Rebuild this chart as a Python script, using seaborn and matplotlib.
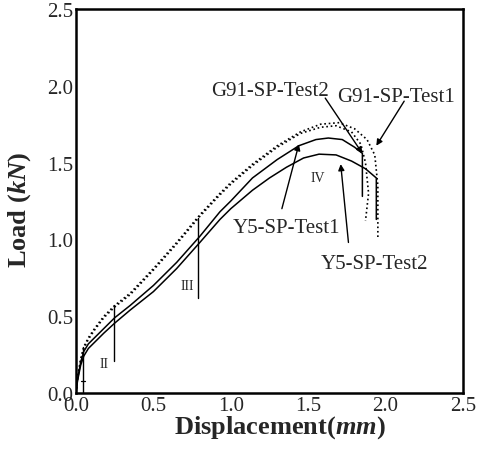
import numpy as np
import pandas as pd
import matplotlib
matplotlib.use("Agg")
import matplotlib.pyplot as plt
import seaborn as sns

# ---- data ----
y5_t1_x = [0, 0.01, 0.03, 0.05, 0.08, 0.12, 0.18, 0.25, 0.35, 0.5, 0.65, 0.8, 0.93, 1.0, 1.14,
           1.3, 1.44, 1.55, 1.63, 1.72, 1.8, 1.85, 1.85]
y5_t1_y = [0, 0.09, 0.20, 0.27, 0.32, 0.36, 0.42, 0.49, 0.57, 0.70, 0.85, 1.02, 1.18, 1.25, 1.40,
           1.52, 1.61, 1.65, 1.66, 1.65, 1.60, 1.56, 1.28]

y5_t2_x = [0, 0.01, 0.03, 0.05, 0.08, 0.12, 0.18, 0.25, 0.35, 0.5, 0.65, 0.8, 0.93, 1.0, 1.14,
           1.25, 1.36, 1.47, 1.57, 1.68, 1.78, 1.87, 1.94, 1.94]
y5_t2_y = [0, 0.08, 0.18, 0.24, 0.29, 0.33, 0.39, 0.455, 0.54, 0.66, 0.81, 0.98, 1.13, 1.20, 1.32,
           1.40, 1.47, 1.53, 1.555, 1.55, 1.51, 1.46, 1.40, 1.13]

g91_t1_x = [0, 0.01, 0.03, 0.05, 0.08, 0.12, 0.18, 0.25, 0.35, 0.5, 0.65, 0.8, 0.93, 1.0, 1.14,
            1.3, 1.45, 1.58, 1.7, 1.8, 1.88, 1.93, 1.95, 1.95]
g91_t1_y = [0, 0.10, 0.22, 0.30, 0.36, 0.42, 0.50, 0.57, 0.65, 0.81, 0.98, 1.16, 1.30, 1.37, 1.49,
            1.61, 1.70, 1.75, 1.76, 1.72, 1.65, 1.55, 1.35, 1.00]

g91_t2_x = [0, 0.01, 0.03, 0.05, 0.08, 0.12, 0.18, 0.25, 0.35, 0.5, 0.65, 0.8, 0.93, 1.0, 1.14,
            1.3, 1.45, 1.58, 1.68, 1.78, 1.84, 1.87, 1.89, 1.87]
g91_t2_y = [0, 0.10, 0.21, 0.29, 0.35, 0.41, 0.49, 0.56, 0.64, 0.80, 0.97, 1.15, 1.29, 1.36, 1.48,
            1.60, 1.69, 1.73, 1.74, 1.70, 1.62, 1.50, 1.30, 1.12]

# stage markers (x, y_low, y_high) and stage labels
stage_x = [0.045, 0.245, 0.79]
stage_lo = [0.0, 0.21, 0.62]
stage_hi = [0.30, 0.57, 1.14]
stage_names = ["II", "III", "IV"]
stage_lx = [0.18, 0.72, 1.56]
stage_ly = [0.19, 0.70, 1.40]

# curve labels: text, text position, arrow tail, arrow head
lab_text = ["G91-SP-Test2", "G91-SP-Test1", "Y5-SP-Test1", "Y5-SP-Test2"]
lab_xy = [(1.25, 1.97), (2.07, 1.93), (1.36, 1.08), (1.93, 0.84)]
arrow_tail = [(1.61, 1.92), (2.12, 1.90), (1.33, 1.20), (1.76, 0.98)]
arrow_head = [(1.85, 1.56), (1.94, 1.61), (1.44, 1.62), (1.71, 1.49)]

x_ticks = [0.0, 0.5, 1.0, 1.5, 2.0, 2.5]
y_ticks = [0.0, 0.5, 1.0, 1.5, 2.0, 2.5]

# ---- build long table ----
frames = []
for name, xs, ys in [("Y5-SP-Test1", y5_t1_x, y5_t1_y), ("Y5-SP-Test2", y5_t2_x, y5_t2_y),
                     ("G91-SP-Test1", g91_t1_x, g91_t1_y), ("G91-SP-Test2", g91_t2_x, g91_t2_y)]:
    frames.append(pd.DataFrame({"x": xs, "y": ys, "series": name}))
df = pd.concat(frames, ignore_index=True)

sns.set_style("white")
plt.rcParams["font.family"] = ["Liberation Serif", "DejaVu Serif"]
plt.rcParams["mathtext.fontset"] = "custom"
plt.rcParams["mathtext.it"] = "Liberation Serif:bold:italic"
plt.rcParams["mathtext.rm"] = "Liberation Serif:bold"

fig = plt.figure(figsize=(4.81, 4.64), dpi=100)
ax = fig.add_axes([76 / 481, 1 - 394 / 464, (463 - 76) / 481, (394 - 10) / 464])

styles = {"Y5-SP-Test1": "-", "Y5-SP-Test2": "-", "G91-SP-Test1": ":", "G91-SP-Test2": ":"}
for name, sub in df.groupby("series", sort=False):
    sns.lineplot(data=sub, x="x", y="y", sort=False, estimator=None, ax=ax,
                 color="black", linestyle=styles[name], linewidth=1.1 if styles[name] == "-" else 1.2)

for sx, lo, hi in zip(stage_x, stage_lo, stage_hi):
    ax.plot([sx, sx], [lo, hi], color="black", lw=1.0)
ax.plot([stage_x[0] - 0.015, stage_x[0] + 0.01], [0.08, 0.08], color="black", lw=0.9)

for nm, lx, ly in zip(stage_names, stage_lx, stage_ly):
    ax.text(lx, ly, nm, fontsize=10, ha="center", va="center")

for t, (tx, ty), tail, head in zip(lab_text, lab_xy, arrow_tail, arrow_head):
    ax.text(tx, ty, t, fontsize=15, ha="center", va="center")
    ax.annotate("", xy=head, xytext=tail,
                arrowprops=dict(arrowstyle="-|>", color="black", lw=1.0,
                                mutation_scale=9, shrinkA=0, shrinkB=0))

ax.set_xlim(0, 2.5)
ax.set_ylim(0, 2.5)
ax.set_xticks(x_ticks)
ax.set_yticks(y_ticks)
ax.set_xticklabels([f"{v:.1f}" for v in x_ticks], fontsize=15)
ax.set_yticklabels([f"{v:.1f}" for v in y_ticks], fontsize=15)
ax.set_xticks(np.arange(0.25, 2.5, 0.5), minor=True)
ax.set_yticks(np.arange(0.25, 2.5, 0.5), minor=True)
ax.tick_params(which="major", direction="in", length=5, width=1.2, pad=2, top=False, right=False)
ax.tick_params(which="minor", direction="in", length=3, width=1.0, top=False, right=False)
ax.tick_params(axis="y", pad=2)

ax.set_xlabel(r"Displacement($\mathit{mm}$)", fontsize=19, fontweight="bold")
ax.set_ylabel(r"Load ($\mathit{kN}$)", fontsize=19, fontweight="bold")
ax.xaxis.set_label_coords((280 - 76) / 387, (394 - 414) / 384)
ax.yaxis.set_label_coords((33 - 76) / 387, (394 - 210) / 384)

for s in ax.spines.values():
    s.set_color("black")
    s.set_linewidth(1.8)
    s.set_visible(True)

fig.savefig("out.png", dpi=100)
